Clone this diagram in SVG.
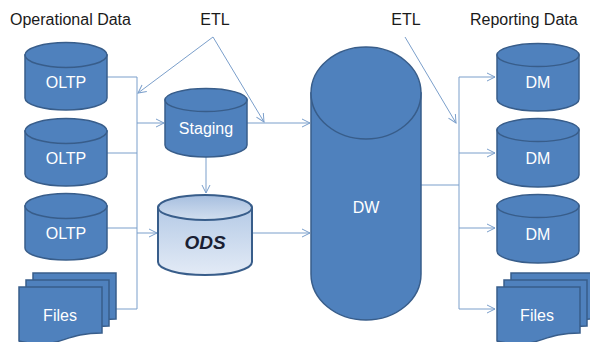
<svg xmlns="http://www.w3.org/2000/svg" width="590" height="342" viewBox="0 0 590 342">
<style>
.shape{fill:#4f81bd;stroke:#385d8a;stroke-width:1.5}
.ods{stroke:#385d8a;stroke-width:2}
.lbl{font-family:"Liberation Sans",Arial,sans-serif;font-size:16px;fill:#ffffff;text-anchor:middle}
.hdr{font-family:"Liberation Sans",Arial,sans-serif;font-size:16px;fill:#1a1a1a}
.conn{fill:none;stroke:#7b9fcb;stroke-width:1}
</style>
<defs>
<marker id="arr" markerUnits="userSpaceOnUse" markerWidth="10" markerHeight="10" viewBox="0 0 10 10" refX="9" refY="5" orient="auto">
<path d="M1,1 L9,5 L1,9" fill="none" stroke="#7b9fcb" stroke-width="1"/>
</marker>
<linearGradient id="odsBody" x1="0" y1="0" x2="0" y2="1">
<stop offset="0" stop-color="#b5cae6"/>
<stop offset="1" stop-color="#e3ebf6"/>
</linearGradient>
<linearGradient id="odsTop" x1="0" y1="0" x2="0" y2="1">
<stop offset="0" stop-color="#a6bedf"/>
<stop offset="1" stop-color="#d2dfef"/>
</linearGradient>
<path id="page" d="M0,0 H83 V46 C41.5,46 41.5,64 0,54 Z"/>
</defs>

<text class="hdr" x="10" y="25">Operational Data</text>
<text class="hdr" x="215" y="25" text-anchor="middle">ETL</text>
<text class="hdr" x="406" y="25" text-anchor="middle">ETL</text>
<text class="hdr" x="470" y="25">Reporting Data</text>

<g id="connectors">
<path class="conn" d="M107,77 H137 V309"/>
<path class="conn" d="M107,153 H137"/>
<path class="conn" d="M107,228 H137"/>
<path class="conn" d="M115,309 H137"/>
<path class="conn" d="M137,123 H164" marker-end="url(#arr)"/>
<path class="conn" d="M137,233 H157" marker-end="url(#arr)"/>
<path class="conn" d="M206,157 V193" marker-end="url(#arr)"/>
<path class="conn" d="M247,123 H310" marker-end="url(#arr)"/>
<path class="conn" d="M252,233 H310" marker-end="url(#arr)"/>
<path class="conn" d="M213,37 L138,93" marker-end="url(#arr)"/>
<path class="conn" d="M213,37 L264,122" marker-end="url(#arr)"/>
<path class="conn" d="M405,37 L456,123" marker-end="url(#arr)"/>
<path class="conn" d="M421,185 H459"/>
<path class="conn" d="M459,77 V309"/>
<path class="conn" d="M459,77 H495" marker-end="url(#arr)"/>
<path class="conn" d="M459,153 H495" marker-end="url(#arr)"/>
<path class="conn" d="M459,228 H495" marker-end="url(#arr)"/>
<path class="conn" d="M459,309 H495" marker-end="url(#arr)"/>
</g>

<g id="oltp1">
<path class="shape" d="M25,55 V98 A41,12 0 0 0 107,98 V55 Z"/>
<ellipse class="shape" cx="66" cy="55" rx="41" ry="12.5"/>
<text class="lbl" x="66" y="88">OLTP</text>
</g>
<g id="oltp2">
<path class="shape" d="M25,131 V174 A41,12 0 0 0 107,174 V131 Z"/>
<ellipse class="shape" cx="66" cy="131" rx="41" ry="12.5"/>
<text class="lbl" x="66" y="164">OLTP</text>
</g>
<g id="oltp3">
<path class="shape" d="M25,206 V248 A41,12 0 0 0 107,248 V206 Z"/>
<ellipse class="shape" cx="66" cy="206" rx="41" ry="12.5"/>
<text class="lbl" x="66" y="239">OLTP</text>
</g>
<g id="files-left">
<use href="#page" class="shape" x="33" y="273"/>
<use href="#page" class="shape" x="26" y="280"/>
<use href="#page" class="shape" x="19" y="287"/>
<text class="lbl" x="60" y="321">Files</text>
</g>

<g id="staging">
<path class="shape" d="M165,100 V145 A41,12 0 0 0 247,145 V100 Z"/>
<ellipse class="shape" cx="206" cy="100" rx="41" ry="11.5"/>
<text class="lbl" x="206" y="134">Staging</text>
</g>
<g id="ods">
<path class="ods" fill="url(#odsBody)" d="M158,207.5 V262 A47,13 0 0 0 252,262 V207.5 Z"/>
<ellipse class="ods" fill="url(#odsTop)" cx="205" cy="207.5" rx="47" ry="12.5"/>
<text x="205" y="249" text-anchor="middle" font-family="Liberation Sans,Arial,sans-serif" font-size="19" font-weight="bold" font-style="italic" fill="#1a1f33">ODS</text>
</g>

<g id="dw">
<path class="shape" d="M311,93 V274 A55,46 0 0 0 421,274 V93 Z"/>
<ellipse class="shape" cx="366" cy="93" rx="55" ry="46"/>
<text class="lbl" x="366" y="213">DW</text>
</g>

<g id="dm1">
<path class="shape" d="M497,55 V99 A41,12 0 0 0 579,99 V55 Z"/>
<ellipse class="shape" cx="538" cy="55" rx="41" ry="11.5"/>
<text class="lbl" x="538" y="88">DM</text>
</g>
<g id="dm2">
<path class="shape" d="M497,130 V175 A41,12 0 0 0 579,175 V130 Z"/>
<ellipse class="shape" cx="538" cy="130" rx="41" ry="11.5"/>
<text class="lbl" x="538" y="164">DM</text>
</g>
<g id="dm3">
<path class="shape" d="M497,206 V251 A41,12 0 0 0 579,251 V206 Z"/>
<ellipse class="shape" cx="538" cy="206" rx="41" ry="11.5"/>
<text class="lbl" x="538" y="240">DM</text>
</g>
<g id="files-right">
<use href="#page" class="shape" x="511" y="273"/>
<use href="#page" class="shape" x="504" y="280"/>
<use href="#page" class="shape" x="497" y="287"/>
<text class="lbl" x="537" y="321">Files</text>
</g>
</svg>
